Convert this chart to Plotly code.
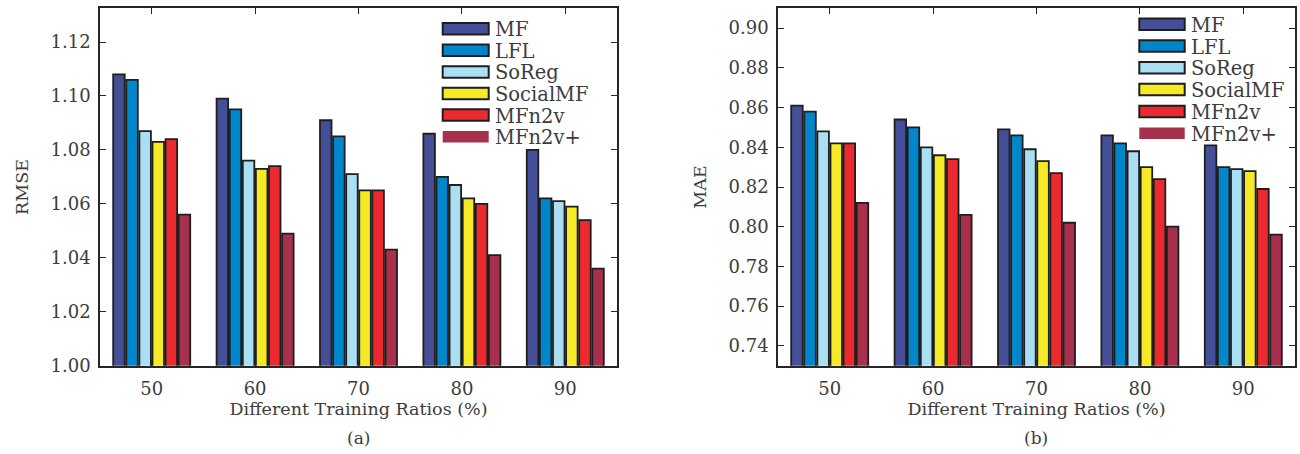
import plotly.graph_objects as go

# ---------------- data ----------------
categories = ["50", "60", "70", "80", "90"]
methods = ["MF", "LFL", "SoReg", "SocialMF", "MFn2v", "MFn2v+"]
colors = ["#454F98", "#0087CB", "#A9DEF3", "#F6EA26", "#EB2A30", "#A7304C"]

rmse_mf = [1.108, 1.099, 1.091, 1.086, 1.080]
rmse_lfl = [1.106, 1.095, 1.085, 1.070, 1.062]
rmse_soreg = [1.087, 1.076, 1.071, 1.067, 1.061]
rmse_socialmf = [1.083, 1.073, 1.065, 1.062, 1.059]
rmse_mfn2v = [1.084, 1.074, 1.065, 1.060, 1.054]
rmse_mfn2v_plus = [1.056, 1.049, 1.043, 1.041, 1.036]

mae_mf = [0.861, 0.854, 0.849, 0.846, 0.841]
mae_lfl = [0.858, 0.850, 0.846, 0.842, 0.830]
mae_soreg = [0.848, 0.840, 0.839, 0.838, 0.829]
mae_socialmf = [0.842, 0.836, 0.833, 0.830, 0.828]
mae_mfn2v = [0.842, 0.834, 0.827, 0.824, 0.819]
mae_mfn2v_plus = [0.812, 0.806, 0.802, 0.800, 0.796]

rmse_ticks = [1.00, 1.02, 1.04, 1.06, 1.08, 1.10, 1.12]
mae_ticks = [0.74, 0.76, 0.78, 0.80, 0.82, 0.84, 0.86, 0.88, 0.90]

rmse_series = [rmse_mf, rmse_lfl, rmse_soreg, rmse_socialmf, rmse_mfn2v, rmse_mfn2v_plus]
mae_series = [mae_mf, mae_lfl, mae_soreg, mae_socialmf, mae_mfn2v, mae_mfn2v_plus]

# ---------------- figure ----------------
W, H = 1300, 454
FONT = "DejaVu Serif"
TXT = "#3c3c3c"
AX = "#262626"


def px(x):
    return x / W


def py(y):
    return 1 - y / H


fig = go.Figure()

for i, (name, col) in enumerate(zip(methods, colors)):
    fig.add_trace(go.Bar(x=categories, y=rmse_series[i], name=name,
                         marker=dict(color=col, line=dict(color="#1e1e1e", width=1.8)),
                         xaxis="x", yaxis="y", showlegend=False))
    fig.add_trace(go.Bar(x=categories, y=mae_series[i], name=name,
                         marker=dict(color=col, line=dict(color="#1e1e1e", width=1.8)),
                         xaxis="x2", yaxis="y2", showlegend=False))

ydom = [py(365.7), py(8.3)]
common_x = dict(type="category", range=[-0.5, 4.5], showline=True, linecolor=AX,
                linewidth=1.6, mirror="ticks", ticks="inside", ticklen=6,
                tickcolor=AX, tickwidth=1.4, showgrid=False, zeroline=False,
                tickfont=dict(family=FONT, size=18, color=TXT),
                ticklabelstandoff=6,
                title=dict(text="Different Training Ratios (%)",
                           font=dict(family=FONT, size=17.5, color=TXT), standoff=4))
common_y = dict(showline=True, linecolor=AX, linewidth=1.6, mirror="ticks",
                ticks="inside", ticklen=6, tickcolor=AX, tickwidth=1.4,
                showgrid=False, zeroline=False, tickformat=".2f",
                tickfont=dict(family=FONT, size=18, color=TXT),
                ticklabelstandoff=4)

fig.update_layout(
    width=W, height=H,
    margin=dict(l=0, r=0, t=0, b=0, autoexpand=False),
    paper_bgcolor="white", plot_bgcolor="white",
    barmode="group", bargap=0.24, bargroupgap=0.12,
    xaxis=dict(domain=[px(100), px(617)], anchor="y", **common_x),
    xaxis2=dict(domain=[px(778), px(1295)], anchor="y2", **common_x),
    yaxis=dict(domain=ydom, anchor="x", range=[1.0, 1.1325], tickvals=rmse_ticks,
               title=dict(text="RMSE", font=dict(family=FONT, size=17.5, color=TXT), standoff=17),
               **common_y),
    yaxis2=dict(domain=ydom, anchor="x2", range=[0.73, 0.91], tickvals=mae_ticks,
                title=dict(text="MAE", font=dict(family=FONT, size=17.5, color=TXT), standoff=17),
                **common_y),
)

# sub-captions
fig.add_annotation(text="(a)", x=px(358), y=py(438), xref="paper", yref="paper",
                   xanchor="center", yanchor="middle",
                   showarrow=False, font=dict(family=FONT, size=17, color=TXT))
fig.add_annotation(text="(b)", x=px(1036), y=py(438), xref="paper", yref="paper",
                   xanchor="center", yanchor="middle",
                   showarrow=False, font=dict(family=FONT, size=17, color=TXT))

# custom legends (wide rectangular swatches as in the reference)
legend_specs = [
    dict(x0=442.7, x1=488.7, y_first=28.7, pitch=21.6),
    dict(x0=1139.3, x1=1184.7, y_first=24.2, pitch=21.8),
]
sw_h = 11.5
for spec in legend_specs:
    for i, (name, col) in enumerate(zip(methods, colors)):
        yc = spec["y_first"] + i * spec["pitch"]
        last = (i == len(methods) - 1)
        fig.add_shape(type="rect", xref="paper", yref="paper",
                      x0=px(spec["x0"]), x1=px(spec["x1"]),
                      y0=py(yc + sw_h / 2), y1=py(yc - sw_h / 2),
                      fillcolor=col,
                      line=dict(color="#1e1e1e", width=0 if last else 2))
        fig.add_annotation(text=name, x=px(spec["x1"] + 4), y=py(yc + 1),
                           xref="paper", yref="paper", xanchor="left", yanchor="middle",
                           showarrow=False,
                           font=dict(family=FONT, size=19.5, color=TXT))

fig.write_html(
    "out.html",
    config={"displayModeBar": False},
    post_script="document.body.style.margin='0';document.body.style.overflow='hidden';",
)
